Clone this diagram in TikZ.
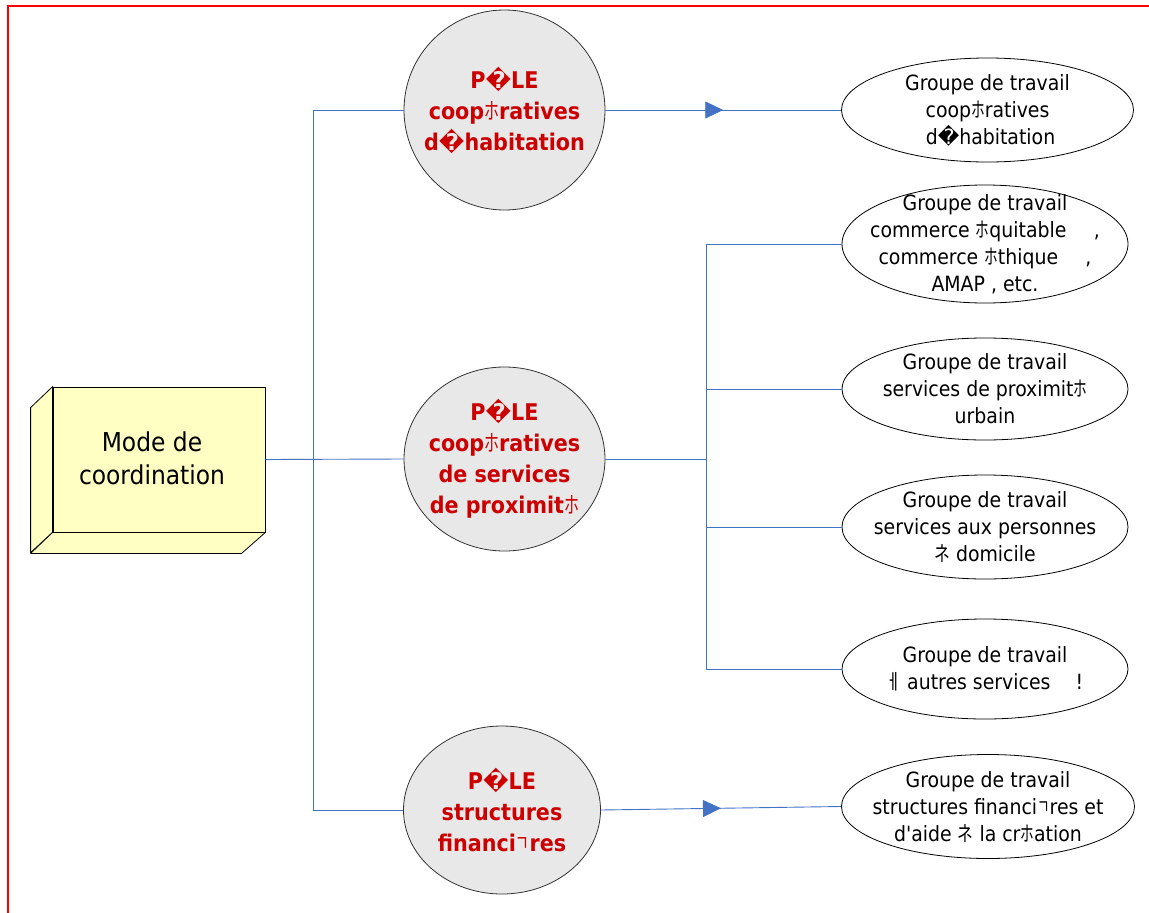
\documentclass[tikz,border=0pt]{standalone}
\usepackage{graphicx}
\usepackage{fontspec}
\setmainfont{DejaVu Sans Condensed}
\newfontfamily\cjkf{Noto Sans CJK JP}
\newfontfamily\dvf{DejaVu Sans}
\newcommand\gE{{\cjkf\mdseries\scalebox{0.65}[1]{ホ}}}
\newcommand\gQ{{\dvf �}}
\newcommand\gA{{\cjkf\mdseries\scalebox{0.75}[1]{ネ}}}
\newcommand\gR{{\cjkf\mdseries\scalebox{0.65}[1]{ㄱ}}}
\newcommand\gX{{\cjkf\mdseries\scalebox{0.75}[1]{ㅔ}}}
\usetikzlibrary{arrows.meta,decorations.markings,shapes.geometric}
\definecolor{linkblue}{RGB}{68,114,196}
\definecolor{polered}{RGB}{204,0,0}
\definecolor{polefill}{RGB}{232,232,232}
\definecolor{boxyellow}{RGB}{255,255,196}
\definecolor{frame}{RGB}{255,0,0}
\tikzset{
  pole/.style={ellipse,draw=black!80,line width=0.8pt,fill=polefill,inner sep=0pt},
  poletext/.style={text=polered,align=center,inner sep=0pt,font=\fontsize{23}{31}\selectfont\bfseries},
  group/.style={ellipse,draw=black,line width=0.8pt,fill=white,inner sep=0pt},
  grouptext/.style={align=center,inner sep=0pt,font=\fontsize{21}{27}\selectfont},
  link/.style={draw=linkblue,line width=0.9pt},
  arrowlink/.style={link,postaction={decorate},decoration={markings,
    mark=at position 0.5 with {\arrow{Triangle[length=18pt,width=17pt,fill=linkblue]}}}},
  face/.style={draw=black,line width=0.8pt,fill=boxyellow,line join=round}
}
\begin{document}
\begin{tikzpicture}[x=1pt,y=-1pt]
\useasboundingbox (0,0) rectangle (1149,913);
% page frame
\draw[frame,line width=1.2pt] (1149,6) -- (8,6) -- (8,913);
% 3D box
\node[face,minimum width=212pt,minimum height=145pt,inner sep=0pt] (box) at (159,459.5) {};
\draw[face] (box.north west) -- ++(-22,21) -- ++(0,145) -- (box.south west) -- cycle;
\draw[face] (box.south west) -- ++(-22,21) -- ++(211,0) -- (box.south east) -- cycle;
\node[font=\fontsize{26}{33}\selectfont,align=center] (boxtxt) at (152,458) {Mode de\\coordination};
% poles
\node[pole,minimum width=201pt,minimum height=200pt] (c1) at (504.5,110) {};
\node[poletext] (c1t) at (c1) {P\gQ LE\\coop\gE ratives\\d\gQ habitation};
\node[pole,minimum width=201pt,minimum height=184pt] (c2) at (504.5,459) {};
\node[poletext] (c2t) at (c2) {P\gQ LE\\coop\gE ratives\\de services\\de proximit\gE};
\node[pole,minimum width=197pt,minimum height=168pt] (c3) at (502,810) {};
\node[poletext] (c3t) at (c3) {P\gQ LE\\structures\\financi\gR res};
% groups
\node[group,minimum width=292pt,minimum height=104pt] (e1) at (987.5,110) {};
\node[grouptext] (e1t) at (e1) {Groupe de travail\\coop\gE ratives\\\ d\gQ habitation};
\node[group,minimum width=286pt,minimum height=118pt] (e2) at (985,244) {};
\node[grouptext] (e2t) at (e2) {Groupe de travail\\commerce \gE quitable\hspace{1.3em},\\commerce \gE thique\hspace{1.3em},\\AMAP , etc.};
\node[group,minimum width=286pt,minimum height=102pt] (e3) at (985,389) {};
\node[grouptext] (e3t) at (e3) {Groupe de travail\\services de proximit\gE\\urbain};
\node[group,minimum width=286pt,minimum height=104pt] (e4) at (985,527) {};
\node[grouptext] (e4t) at (e4) {Groupe de travail\\services aux personnes\\\gA\ domicile};
\node[group,minimum width=286pt,minimum height=100pt] (e5) at (985,669) {};
\node[grouptext] (e5t) at (e5) {Groupe de travail\\\gX\ autres services\hspace{1.2em}!};
\node[group,minimum width=293pt,minimum height=104pt] (e6) at (988,806.5) {};
\node[grouptext] (e6t) at (e6) {Groupe de travail\\structures financi\gR res et\\d\textquotesingle aide \gA\ la cr\gE ation};
% connectors
\draw[link] (box.east) -- (c2.west);
\draw[link] (c1.west) -- ++(-90,0) coordinate (ltop) |- (c3.west);
\draw[link] (c2.east) -- ++(101,0) coordinate (rmid);
\draw[link] (e2.west) -| (rmid) |- (e5.west);
\draw[link] (rmid) |- (e3.west);
\draw[link] (rmid) |- (e4.west);
\draw[arrowlink] (c1.east) -- (e1.west);
\draw[arrowlink] (c3.east) -- (e6.west);
\end{tikzpicture}
\end{document}
